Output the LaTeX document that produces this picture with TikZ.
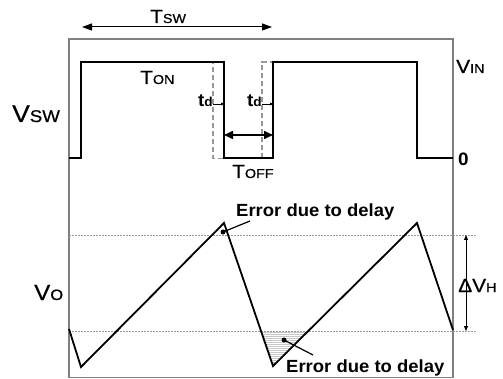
\documentclass[tikz,border=0pt]{standalone}
\usepackage{fontspec}
\setmainfont{Liberation Sans}
\newfontfamily\af[FakeStretch=1.1,FakeBold=0.6]{Liberation Sans}
\newfontfamily\bfa[FakeStretch=1.05]{Liberation Sans Bold}
\usetikzlibrary{arrows.meta}
\newcommand{\fs}[1]{\fontsize{#1}{#1}\selectfont}
\newcommand{\lbl}[4]{{\fs{#1}#2}{\fs{#3}#4}}
\tikzset{
  lab/.style={inner sep=0pt, anchor=base west, font=\af},
  blab/.style={inner sep=0pt, anchor=base west, font=\bfa},
  frame/.style={draw=gray, line width=1.4pt},
  wave/.style={draw=black, line width=2pt, line join=miter},
  ghost/.style={draw=gray!80, line width=1.3pt, dash pattern=on 5pt off 3pt},
  guide/.style={draw=gray!80, line width=0.6pt, dash pattern=on 2pt off 1pt},
  bigarrow/.style={draw=black, line width=1pt, {Triangle[length=10pt,width=7pt]}-{Triangle[length=10pt,width=7pt]}},
  offarrow/.style={draw=black, line width=1.6pt, {Triangle[length=9pt,width=8pt]}-{Triangle[length=9pt,width=8pt]}},
  smallarrow/.style={draw=black, line width=0.8pt, -{Triangle[length=3pt,width=3pt]}},
  dvarrow/.style={draw=black, line width=0.9pt, {Triangle[length=5pt,width=4pt]}-{Triangle[length=5pt,width=4pt]}},
  leader/.style={draw=black, line width=1.2pt},
  dot/.style={circle, fill=black, inner sep=0pt, minimum size=5pt}
}
\begin{document}
\begin{tikzpicture}[x=1pt,y=-1pt]
\useasboundingbox (0,0) rectangle (503,379);
% frame
\draw[frame] (69,39) rectangle (453,377.5);
% switching waveform
\draw[ghost] (224,62) -- (213,62) -- (213,158.5) -- (224,158.5);
\draw[ghost] (262,158.5) -- (262,62) -- (273,62);
\draw[wave] (69,158.5) -- (81,158.5) -- (81,62.5) -- (224,62.5) -- (224,158.5) -- (273,158.5) -- (273,62.5) -- (417,62.5) -- (417,158.5) -- (453,158.5);
% coordinates for arrows
\coordinate (swL) at (82,27);
\coordinate (swR) at (272,27);
\coordinate (offL) at (224,135);
\coordinate (offR) at (273,135);
\coordinate (d1a) at (213,104);
\coordinate (d1b) at (224,104);
\coordinate (d2a) at (262,104);
\coordinate (d2b) at (273,104);
\draw[bigarrow] (swL) -- (swR);
\draw[offarrow] (offL) -- (offR);
\draw[smallarrow] (d1a) -- (d1b);
\draw[smallarrow] (d2a) -- (d2b);
% labels top
\node[lab] (tsw) at (150,23) {\lbl{19}{T}{13}{SW}};
\node[lab] (ton) at (140,84) {\lbl{19}{T}{13}{ON}};
\node[lab] (toff) at (232,178) {\lbl{19}{T}{13}{OFF}};
\node[blab,anchor=base east] (td1) at (213,107) {\lbl{18}{t}{13}{d}};
\node[blab,anchor=base east] (td2) at (262,107) {\lbl{18}{t}{13}{d}};
\node[lab] (vsw) at (12,122) {\lbl{24}{V}{17}{SW}};
\node[lab] (vin) at (456,73) {\lbl{19}{V}{13}{IN}};
\node[blab] (zero) at (458,166) {\fs{18}0};
% output waveform
\draw[guide] (69,235) -- (477,235);
\draw[guide] (69,331) -- (477,331);
\begin{scope}
\clip (261,331) -- (273,366) -- (308,331) -- cycle;
\foreach \yy in {332,334,...,366} \draw[gray!45, line width=0.7pt] (255,\yy) -- (315,\yy);
\end{scope}
\draw[wave, line width=1.8pt] (69,329) -- (81,367) -- (224,223) -- (273,366) -- (417,223) -- (453,330);
\coordinate (dvT) at (466,235);
\coordinate (dvB) at (466,331);
\draw[dvarrow] (dvT) -- (dvB);
\node[lab] (dvh) at (458,292) {\lbl{19}{ΔV}{13}{H}};
\node[lab] (vo) at (34,300) {\lbl{22}{V}{15}{O}};
% error annotations
\node[blab] (err1) at (236,217) {\fs{17.6}Error due to delay};
\node[blab] (err2) at (286,372.5) {\fs{17.6}Error due to delay};
\node[dot] (e1) at (223,232) {};
\node[dot] (e2) at (284,340) {};
\coordinate (l1) at (250,221);
\coordinate (l2) at (313,355);
\draw[leader] (e1.center) -- (l1);
\draw[leader] (e2.center) -- (l2);
\end{tikzpicture}
\end{document}
